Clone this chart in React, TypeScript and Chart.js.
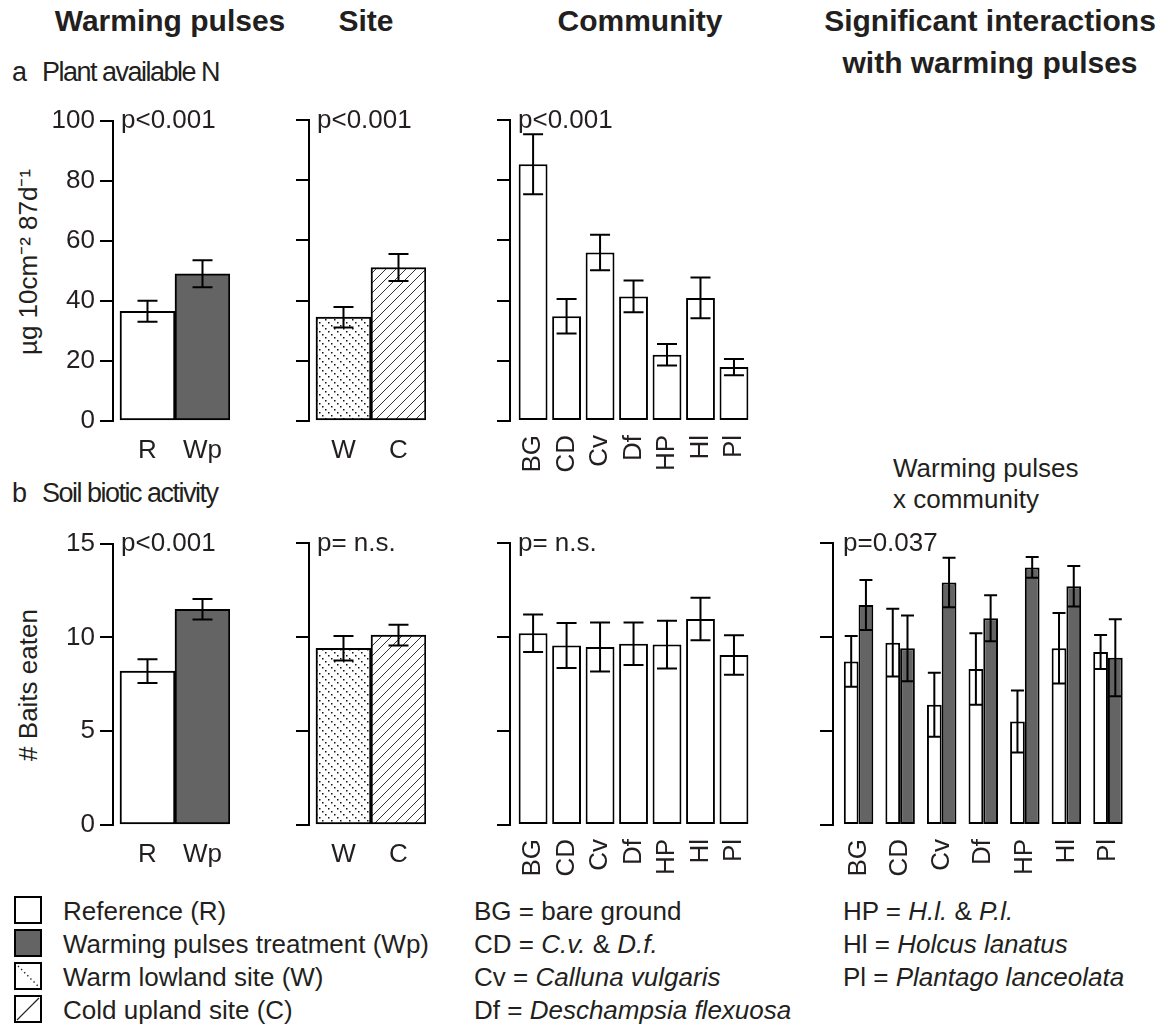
import React, { useEffect, useRef } from 'react';
import { Chart, registerables } from 'chart.js';
Chart.register(...registerables);

const FONT = "'Liberation Sans', Arial, Helvetica, sans-serif";
const INK = '#231f20';
const DARK = '#646464';

// ---------- data ----------
const treatCats = ['R', 'Wp'];
const siteCats = ['W', 'C'];
const commCats = ['BG', 'CD', 'Cv', 'Df', 'HP', 'Hl', 'Pl'];
const nTicks = [0, 20, 40, 60, 80, 100];
const baitTicks = [0, 5, 10, 15];

const nTreatMean = [36.5, 49.0];
const nTreatErr = [3.5, 4.5];
const nSiteMean = [34.5, 51.0];
const nSiteErr = [3.4, 4.5];
const nCommMean = [85.3, 34.8, 56.0, 41.4, 22.0, 40.9, 17.9];
const nCommErr = [10.0, 5.7, 5.9, 5.3, 3.6, 6.8, 2.7];

const bTreatMean = [8.2, 11.5];
const bTreatErr = [0.63, 0.55];
const bSiteMean = [9.4, 10.1];
const bSiteErr = [0.65, 0.55];
const bCommMean = [10.2, 9.55, 9.47, 9.64, 9.6, 10.96, 9.04];
const bCommErr = [1.0, 1.2, 1.3, 1.13, 1.27, 1.13, 1.05];
const bIntRefMean = [8.7, 9.7, 6.4, 8.3, 5.5, 9.4, 9.2];
const bIntRefErr = [1.35, 1.8, 1.7, 1.9, 1.65, 1.87, 0.9];
const bIntWpMean = [11.7, 9.4, 12.9, 11.0, 13.7, 12.7, 8.9];
const bIntWpErr = [1.33, 1.75, 1.32, 1.22, 0.55, 1.08, 2.05];

type Fill = 'white' | 'dark' | 'W' | 'C';
type Series = { mean: number[]; err: number[]; fill: Fill[] };

function makePattern(kind: 'W' | 'C'): CanvasPattern | string {
  const s = kind === 'C' ? 10 : 9;
  const c = document.createElement('canvas');
  c.width = s;
  c.height = s;
  const g = c.getContext('2d');
  if (!g) return '#fff';
  g.fillStyle = '#fff';
  g.fillRect(0, 0, s, s);
  if (kind === 'C') {
    g.strokeStyle = '#333';
    g.lineWidth = 1;
    g.beginPath();
    g.moveTo(0, s);
    g.lineTo(s, 0);
    g.moveTo(-2, 2);
    g.lineTo(2, -2);
    g.moveTo(s - 2, s + 2);
    g.lineTo(s + 2, s - 2);
    g.stroke();
  } else {
    g.fillStyle = '#111';
    for (let k = 0; k < 3; k++) {
      const t = (k * s) / 3;
      g.fillRect(t, t, 1.5, 1.5);
    }
  }
  return g.createPattern(c, 'repeat') || '#fff';
}

const errorBarPlugin = {
  id: 'errorBars',
  afterDatasetsDraw(chart: any, _args: any, opts: any) {
    const { ctx } = chart;
    const y = chart.scales.y;
    const cap = opts.cap || 20;
    chart.data.datasets.forEach((ds: any, di: number) => {
      const meta = chart.getDatasetMeta(di);
      meta.data.forEach((el: any, i: number) => {
        const v = ds.data[i].y;
        const e = ds.errors[i];
        const top = y.getPixelForValue(v + e);
        const bot = y.getPixelForValue(v - e);
        ctx.save();
        ctx.strokeStyle = '#000';
        ctx.lineWidth = 2;
        ctx.beginPath();
        ctx.moveTo(el.x, top);
        ctx.lineTo(el.x, bot);
        ctx.moveTo(el.x - cap / 2, top);
        ctx.lineTo(el.x + cap / 2, top);
        ctx.moveTo(el.x - cap / 2, bot);
        ctx.lineTo(el.x + cap / 2, bot);
        ctx.stroke();
        ctx.restore();
      });
    });
  },
};

type PanelProps = {
  l: number; t: number; b: number; catPx: number;
  xMin: number; xMax: number;
  cats: string[]; series: Series[]; yTicks: number[];
  showY: boolean; rotate: boolean; catPct: number; barPct: number; cap: number;
};

function Panel(p: PanelProps) {
  const ref = useRef<HTMLCanvasElement>(null);
  const yW = p.showY ? 62 : 14;
  const padT = 20, padR = 12, xH = 70;
  const areaW = (p.xMax - p.xMin) * p.catPx;
  const cw = Math.round(yW + areaW + padR);
  const ch = Math.round(padT + (p.b - p.t) + xH);
  useEffect(() => {
    if (!ref.current) return;
    const fills: Record<Fill, any> = {
      white: '#ffffff', dark: DARK, W: makePattern('W'), C: makePattern('C'),
    };
    const yMax = p.yTicks[p.yTicks.length - 1];
    const chart = new Chart(ref.current, {
      type: 'bar',
      data: {
        datasets: p.series.map((s) => ({
          data: s.mean.map((v, i) => ({ x: i, y: v })),
          errors: s.err,
          backgroundColor: s.fill.map((f) => fills[f]),
          borderColor: '#000',
          borderWidth: 2,
          borderSkipped: false,
          categoryPercentage: p.catPct,
          barPercentage: p.barPct,
        })) as any,
      },
      options: {
        animation: false,
        responsive: false,
        events: [],
        layout: { padding: { top: padT, right: padR, left: 0, bottom: 0 } },
        plugins: {
          legend: { display: false },
          tooltip: { enabled: false },
          errorBars: { cap: p.cap },
        } as any,
        scales: {
          x: {
            type: 'linear',
            min: p.xMin,
            max: p.xMax,
            offset: false,
            grid: { display: false },
            border: { display: false },
            afterBuildTicks: (s: any) => { s.ticks = p.cats.map((_, i) => ({ value: i })); },
            afterFit: (s: any) => { s.height = xH; },
            ticks: {
              autoSkip: false,
              maxRotation: p.rotate ? 90 : 0,
              minRotation: p.rotate ? 90 : 0,
              padding: 6,
              color: INK,
              font: { family: FONT, size: 26 },
              callback: (v: any) => p.cats[Math.round(Number(v))] ?? '',
            },
          },
          y: {
            min: 0,
            max: yMax,
            afterBuildTicks: (s: any) => { s.ticks = p.yTicks.map((v) => ({ value: v })); },
            afterFit: (s: any) => { s.width = yW; },
            grid: { drawOnChartArea: false, drawTicks: true, tickLength: 13, color: '#000', lineWidth: 2 },
            border: { display: true, color: '#000', width: 2 },
            ticks: {
              display: p.showY,
              padding: 5,
              color: INK,
              font: { family: FONT, size: 26 },
            },
          },
        },
      } as any,
      plugins: [errorBarPlugin as any],
    });
    return () => chart.destroy();
  }, []);
  return (
    <canvas
      ref={ref}
      width={cw}
      height={ch}
      style={{ position: 'absolute', left: p.l - yW, top: p.t - padT, width: cw, height: ch }}
    />
  );
}

function T(props: { x: number; y: number; size?: number; bold?: boolean; anchor?: 'start' | 'middle'; style?: React.CSSProperties; children: React.ReactNode }) {
  const size = props.size ?? 26;
  return (
    <div
      style={{
        position: 'absolute',
        left: props.x,
        top: props.y - 0.8465 * size,
        fontSize: size,
        lineHeight: `${size}px`,
        fontWeight: props.bold ? 'bold' : 'normal',
        whiteSpace: 'nowrap',
        transform: props.anchor === 'middle' ? 'translateX(-50%)' : undefined,
        ...props.style,
      }}
    >
      {props.children}
    </div>
  );
}

function VT(props: { cx: number; cy: number; children: React.ReactNode }) {
  return (
    <div
      style={{
        position: 'absolute', left: props.cx, top: props.cy, fontSize: 26, lineHeight: '26px',
        whiteSpace: 'nowrap', transform: 'translate(-50%, -50%) rotate(-90deg)',
      }}
    >
      {props.children}
    </div>
  );
}

function Swatch(props: { y: number; kind: Fill }) {
  const k = props.kind;
  return (
    <svg width={28} height={28} style={{ position: 'absolute', left: 14, top: props.y }}>
      <rect x={1} y={1} width={26} height={26} fill={k === 'dark' ? DARK : '#fff'} stroke="#000" strokeWidth={2} />
      {k === 'C' && <line x1={3} y1={25} x2={25} y2={3} stroke="#222" strokeWidth={1.2} />}
      {k === 'W' && <line x1={4} y1={4} x2={24} y2={24} stroke="#222" strokeWidth={1.4} strokeDasharray="1.4 3" />}
    </svg>
  );
}

export default function App() {
  const aT = 120, aB = 421, bT = 543, bB = 825;
  const two = { catPx: 55, xMin: -0.627, xMax: 1.5, catPct: 1, barPct: 1, cap: 20, rotate: false };
  const seven = { catPx: 34.8, xMin: -0.69, xMax: 6.5, catPct: 1, barPct: 0.862, cap: 20, rotate: true };
  const inter = { catPx: 42.3, xMin: -0.615, xMax: 6.5, catPct: 0.709, barPct: 1, cap: 13, rotate: true };
  const whites = commCats.map(() => 'white' as Fill);
  const darks = commCats.map(() => 'dark' as Fill);
  return (
    <div style={{ position: 'absolute', left: 0, top: 0, width: 1174, height: 1032, background: '#fff', overflow: 'hidden', fontFamily: FONT, color: INK }}>
      {/* headers */}
      <T x={170} y={31} size={30} bold anchor="middle">Warming pulses</T>
      <T x={366} y={31} size={30} bold anchor="middle">Site</T>
      <T x={640} y={31} size={30} bold anchor="middle">Community</T>
      <T x={990} y={31} size={30} bold anchor="middle">Significant interactions</T>
      <T x={990} y={73} size={30} bold anchor="middle">with warming pulses</T>

      <T x={12} y={82} size={27}>a</T>
      <T x={42} y={82} size={27} style={{ letterSpacing: -1.5 }}>Plant available N</T>
      <T x={12} y={503} size={27}>b</T>
      <T x={42} y={503} size={27} style={{ letterSpacing: -1.5 }}>Soil biotic activity</T>

      <VT cx={28} cy={262}>µg 10cm⁻² 87d⁻¹</VT>
      <VT cx={28} cy={685}># Baits eaten</VT>

      {/* row a */}
      <Panel l={113} t={aT} b={aB} {...two} cats={treatCats} yTicks={nTicks} showY
        series={[{ mean: nTreatMean, err: nTreatErr, fill: ['white', 'dark'] }]} />
      <Panel l={309} t={aT} b={aB} {...two} cats={siteCats} yTicks={nTicks} showY={false}
        series={[{ mean: nSiteMean, err: nSiteErr, fill: ['W', 'C'] }]} />
      <Panel l={510} t={aT} b={aB} {...seven} cats={commCats} yTicks={nTicks} showY={false}
        series={[{ mean: nCommMean, err: nCommErr, fill: whites }]} />

      {/* row b */}
      <Panel l={113} t={bT} b={bB} {...two} cats={treatCats} yTicks={baitTicks} showY
        series={[{ mean: bTreatMean, err: bTreatErr, fill: ['white', 'dark'] }]} />
      <Panel l={309} t={bT} b={bB} {...two} cats={siteCats} yTicks={baitTicks} showY={false}
        series={[{ mean: bSiteMean, err: bSiteErr, fill: ['W', 'C'] }]} />
      <Panel l={510} t={bT} b={bB} {...seven} cats={commCats} yTicks={baitTicks} showY={false}
        series={[{ mean: bCommMean, err: bCommErr, fill: whites }]} />
      <Panel l={833} t={bT} b={bB} {...inter} cats={commCats} yTicks={baitTicks} showY={false}
        series={[
          { mean: bIntRefMean, err: bIntRefErr, fill: whites },
          { mean: bIntWpMean, err: bIntWpErr, fill: darks },
        ]} />

      {/* p values */}
      <T x={121} y={aT + 8}>p&lt;0.001</T>
      <T x={317} y={aT + 8}>p&lt;0.001</T>
      <T x={518} y={aT + 8}>p&lt;0.001</T>
      <T x={121} y={bT + 8}>p&lt;0.001</T>
      <T x={317} y={bT + 8}>p= n.s.</T>
      <T x={518} y={bT + 8}>p= n.s.</T>
      <T x={843} y={bT + 8}>p=0.037</T>

      <T x={893} y={477}>Warming pulses</T>
      <T x={893} y={508}>x community</T>

      {/* legend */}
      <Swatch y={896} kind="white" />
      <Swatch y={929} kind="dark" />
      <Swatch y={962} kind="W" />
      <Swatch y={995} kind="C" />
      <T x={63} y={920}>Reference (R)</T>
      <T x={63} y={953}>Warming pulses treatment (Wp)</T>
      <T x={63} y={986}>Warm lowland site (W)</T>
      <T x={63} y={1019}>Cold upland site (C)</T>

      <T x={474} y={920}>BG = bare ground</T>
      <T x={474} y={953}>CD = <i>C.v.</i> &amp; <i>D.f.</i></T>
      <T x={474} y={986}>Cv = <i>Calluna vulgaris</i></T>
      <T x={474} y={1019}>Df = <i>Deschampsia flexuosa</i></T>

      <T x={843} y={920}>HP = <i>H.l.</i> &amp; <i>P.l.</i></T>
      <T x={843} y={953}>Hl = <i>Holcus lanatus</i></T>
      <T x={843} y={986}>Pl = <i>Plantago lanceolata</i></T>
    </div>
  );
}
